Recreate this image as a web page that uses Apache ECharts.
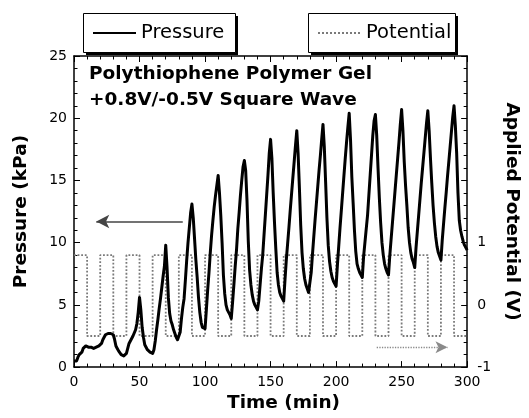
<!DOCTYPE html>
<html>
<head>
<meta charset="utf-8">
<script src="https://cdn.jsdelivr.net/npm/echarts@6/dist/echarts.min.js"></script>
<style>
html,body{margin:0;padding:0;background:#fff;}
#chart{width:529px;height:418px;}
</style>
</head>
<body>
<div id="chart"></div>
<script>
// ---- data ----
const timeTickLabels = ['0','50','100','150','200','250','300'];
const pressureTickLabels = ['0','5','10','15','20','25'];
const potentialTickLabels = ['-1','0','1'];

// Pressure (kPa), sampled every minute from t = 0 to 300 min
const pressureStartMin = 0;
const pressureStepMin = 1;
const pressureKPa = [
  0.5, 0.6, 0.5, 0.8, 1.0, 1.0, 1.2, 1.5, 1.6, 1.7, 1.6,
  1.6, 1.5, 1.6, 1.6, 1.5, 1.5, 1.6, 1.6, 1.7, 1.7,
  1.9, 2.2, 2.3, 2.6, 2.5, 2.7, 2.8, 2.7, 2.8, 2.6,
  2.2, 1.7, 1.5, 1.3, 1.2, 1.0, 1.1, 0.9, 1.0, 1.1,
  1.5, 1.9, 2.1, 2.3, 2.5, 2.6, 3.0, 3.5, 4.4, 5.6,
  4.6, 3.2, 2.4, 1.8, 1.6, 1.4, 1.3, 1.2, 1.2, 1.1,
  1.4, 2.1, 3.0, 3.8, 4.7, 5.5, 6.4, 7.3, 8.1, 9.8,
  8.0, 5.6, 4.3, 3.7, 3.4, 3.0, 2.7, 2.4, 2.2, 2.1,
  2.8, 3.9, 4.8, 5.5, 7.0, 8.6, 10.0, 11.2, 12.4, 13.1,
  12.0, 10.3, 8.6, 7.2, 5.6, 4.4, 3.6, 3.2, 3.1, 3.1,
  4.6, 6.2, 7.6, 9.2, 10.6, 11.8, 12.9, 13.8, 14.6, 15.4,
  14.0, 12.2, 10.0, 7.4, 5.9, 5.0, 4.6, 4.4, 4.2, 3.9,
  5.2, 6.6, 8.1, 9.4, 11.1, 12.4, 13.8, 15.0, 16.1, 16.6,
  15.8, 13.4, 10.1, 7.8, 6.6, 5.8, 5.3, 5.0, 4.8, 4.6,
  5.3, 6.6, 7.9, 9.0, 10.6, 12.2, 13.8, 15.4, 17.2, 18.3,
  16.8, 14.0, 11.6, 9.5, 7.6, 6.6, 6.0, 5.7, 5.5, 5.3,
  7.0, 8.6, 9.9, 11.2, 12.6, 13.9, 15.2, 16.5, 17.8, 19.0,
  17.2, 14.4, 11.4, 9.2, 7.9, 7.1, 6.6, 6.3, 6.0, 5.9,
  7.6, 9.1, 10.5, 11.9, 13.2, 14.5, 15.8, 17.0, 18.3, 19.5,
  17.7, 14.9, 12.0, 9.8, 8.5, 7.7, 7.2, 6.9, 6.7, 6.5,
  8.2, 9.7, 11.2, 12.6, 14.0, 15.4, 16.8, 18.1, 19.3, 20.4,
  18.3, 15.3, 13.2, 11.0, 9.3, 8.3, 7.9, 7.6, 7.4, 7.2,
  8.9, 10.0, 11.1, 12.2, 13.8, 15.4, 17.0, 18.6, 19.8, 20.3,
  18.6, 16.0, 13.6, 11.6, 10.0, 9.0, 8.3, 7.9, 7.6, 7.4,
  9.0, 10.3, 11.6, 12.9, 14.2, 15.5, 16.8, 18.1, 19.5, 20.7,
  19.0, 16.5, 14.6, 13.0, 11.2, 10.0, 9.2, 8.7, 8.4, 8.0,
  9.6, 10.9, 12.2, 13.5, 14.8, 16.0, 17.2, 18.4, 19.6, 20.6,
  19.0, 16.8, 14.8, 13.0, 11.6, 10.5, 9.7, 9.2, 8.9, 8.6,
  10.2, 11.5, 12.8, 14.0, 15.3, 16.5, 17.7, 18.9, 20.1, 21.0,
  19.4, 17.2, 14.0, 11.8, 11.0, 10.5, 10.1, 9.8, 9.6, 9.4
];

// Applied potential square wave (V): value held from each switching time
const potentialTime = [0,10,20,30,40,50,60,70,80,90,100,110,120,130,140,150,160,170,180,190,200,210,220,230,240,250,260,270,280,290,300];
const potentialVolt = [0.8,-0.5,0.8,-0.5,0.8,-0.5,0.8,-0.5,0.8,-0.5,0.8,-0.5,0.8,-0.5,0.8,-0.5,0.8,-0.5,0.8,-0.5,0.8,-0.5,0.8,-0.5,0.8,-0.5,0.8,-0.5,0.8,-0.5,-0.5];

// annotation arrows (data units)
const pressureArrow = [[83, 11.7], [17, 11.7]];   // time (min), kPa
const potentialArrow = [[231, -0.68], [285, -0.68]]; // time (min), V

// ---- build ----
const pressureData = pressureKPa.map((p, i) => [pressureStartMin + i * pressureStepMin, p]);
const potentialData = potentialTime.map((t, i) => [t, potentialVolt[i]]);

const FONT = 'DejaVu Sans';
const axisLineStyle = {color: '#000', width: 1.5};

const chart = echarts.init(document.getElementById('chart'), null, {renderer: 'canvas'});

const legendCommon = {
  orient: 'horizontal',
  top: 13,
  padding: [10, 8, 10, 9],
  itemWidth: 43,
  itemHeight: 14,
  itemGap: 5,
  selectedMode: false,
  itemStyle: {opacity: 0},
  textStyle: {fontFamily: FONT, fontSize: 19.5, color: '#000'},
  z: 10
};

function legendBox(x, y, w, h) {
  return [
    {type: 'rect', left: x + 3, top: y + 3, z: 5, silent: true,
      shape: {width: w, height: h}, style: {fill: '#000'}},
    {type: 'rect', left: x, top: y, z: 6, silent: true,
      shape: {width: w, height: h}, style: {fill: '#fff', stroke: '#000', lineWidth: 1}}
  ];
}

function axisBase() {
  return {
    axisLine: {show: true, onZero: false, lineStyle: axisLineStyle},
    axisTick: {show: true, inside: true, length: 6, lineStyle: {color: '#000', width: 1}},
    minorTick: {show: true, splitNumber: 5, length: 3.5, lineStyle: {color: '#000', width: 1}},
    splitLine: {show: false}
  };
}

chart.setOption({
  animation: false,
  backgroundColor: '#fff',
  textStyle: {fontFamily: FONT},
  title: {
    text: 'Polythiophene Polymer Gel\n+0.8V/-0.5V Square Wave',
    left: 89,
    top: 61,
    padding: 0,
    textStyle: {fontFamily: FONT, fontWeight: 'bold', fontSize: 18.5, lineHeight: 26, color: '#000'}
  },
  graphic: [].concat(legendBox(83, 13, 152, 39), legendBox(308, 13, 147, 39)),
  legend: [
    Object.assign({}, legendCommon, {left: 83, data: ['Pressure'], lineStyle: {width: 2}}),
    Object.assign({}, legendCommon, {left: 308, data: ['Potential']})
  ],
  grid: {left: 74, right: 55, top: 56, bottom: 49, containLabel: false},
  xAxis: [
    Object.assign(axisBase(), {
      type: 'value', position: 'bottom', min: 0, max: 300, interval: 50,
      axisLabel: {fontFamily: FONT, fontSize: 14, color: '#000', margin: 8,
        formatter: v => timeTickLabels.includes(String(v)) ? String(v) : ''},
      name: 'Time (min)', nameLocation: 'middle', nameGap: 26,
      nameTextStyle: {fontFamily: FONT, fontWeight: 'bold', fontSize: 18.5, color: '#000', padding: [0, 0, 0, 26]}
    }),
    Object.assign(axisBase(), {
      type: 'value', position: 'top', min: 0, max: 300, interval: 50,
      axisLabel: {show: false}
    })
  ],
  yAxis: [
    Object.assign(axisBase(), {
      type: 'value', position: 'left', min: 0, max: 25, interval: 5,
      axisLabel: {fontFamily: FONT, fontSize: 14, color: '#000', margin: 7,
        formatter: v => pressureTickLabels.includes(String(v)) ? String(v) : ''},
      name: 'Pressure (kPa)', nameLocation: 'middle', nameGap: 43,
      nameTextStyle: {fontFamily: FONT, fontWeight: 'bold', fontSize: 18.5, color: '#000'}
    }),
    Object.assign(axisBase(), {
      type: 'value', position: 'right', min: -1, max: 4, interval: 1,
      axisLabel: {fontFamily: FONT, fontSize: 14, color: '#000', margin: 10,
        formatter: v => potentialTickLabels.includes(String(v)) ? String(v) : ''},
      name: 'Applied Potential (V)', nameLocation: 'middle', nameGap: 31, nameRotate: -90,
      nameTextStyle: {fontFamily: FONT, fontWeight: 'bold', fontSize: 18.5, color: '#000'}
    })
  ],
  series: [
    {
      name: 'Potential', type: 'line', xAxisIndex: 0, yAxisIndex: 1,
      step: 'end', symbol: 'none', showSymbol: false, z: 2,
      itemStyle: {color: '#7a7a7a'},
      lineStyle: {color: '#7a7a7a', width: 1.8, type: 'dotted'},
      data: potentialData,
      markLine: {
        silent: true, animation: false,
        symbol: ['none', 'arrow'], symbolSize: [9, 12],
        label: {show: false},
        lineStyle: {color: '#8a8a8a', width: 1.3, type: 'dotted'},
        itemStyle: {color: '#aaa'},
        data: [[{coord: potentialArrow[0]}, {coord: potentialArrow[1]}]]
      }
    },
    {
      name: 'Pressure', type: 'line', xAxisIndex: 0, yAxisIndex: 0,
      symbol: 'none', showSymbol: false, z: 3,
      itemStyle: {color: '#000'},
      lineStyle: {color: '#000', width: 3, join: 'round'},
      data: pressureData,
      markLine: {
        silent: true, animation: false,
        symbol: ['none', 'arrow'], symbolSize: [10, 13],
        label: {show: false},
        lineStyle: {color: '#444', width: 1.5, type: 'solid'},
        itemStyle: {color: '#222'},
        data: [[{coord: pressureArrow[0]}, {coord: pressureArrow[1]}]]
      }
    }
  ]
});
</script>
</body>
</html>
